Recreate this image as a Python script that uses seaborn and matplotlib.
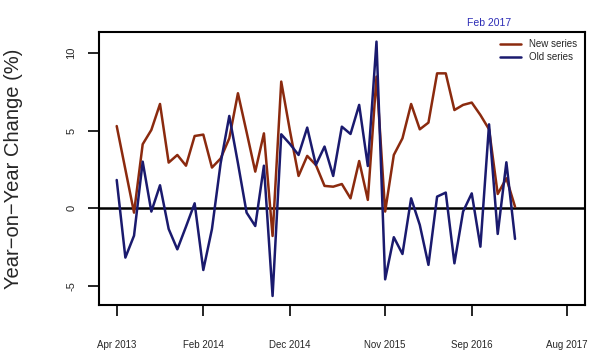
import pandas as pd
import matplotlib.pyplot as plt
import seaborn as sns

# monthly data, Apr 2013 (month 0) .. Feb 2017 (month 46)
months = list(range(47))
new_series = [5.29, 2.5, -0.28, 4.12, 5.04, 6.71, 2.94, 3.43, 2.74, 4.65,
              4.74, 2.62, 3.2, 4.5, 7.40, 4.9, 2.36, 4.82, -1.78, 8.15,
              5.0, 2.08, 3.37, 2.79, 1.44, 1.39, 1.56, 0.64, 3.04, 0.54,
              8.47, -0.21, 3.43, 4.50, 6.71, 5.08, 5.51, 8.68, 8.68, 6.32,
              6.65, 6.80, 6.0, 5.08, 0.92, 1.93, 0.1]
old_series = [1.82, -3.17, -1.76, 3.00, -0.21, 1.48, -1.33, -2.64, -1.18, 0.32,
              -3.97, -1.33, 2.89, 5.94, 2.9, -0.28, -1.14, 2.74, -5.64, 4.76,
              4.14, 3.43, 5.19, 2.79, 3.97, 2.08, 5.25, 4.78, 6.65, 2.72,
              10.72, -4.57, -1.86, -2.94, 0.64, -1.07, -3.64, 0.75, 1.01, -3.54,
              -0.21, 0.96, -2.47, 5.40, -1.65, 2.96, -1.97]

tick_months = [0, 10, 20, 31, 41, 52]
tick_labels = ['Apr 2013', 'Feb 2014', 'Dec 2014', 'Nov 2015', 'Sep 2016', 'Aug 2017']

df = pd.DataFrame({'month': months, 'New series': new_series, 'Old series': old_series})
long = df.melt(id_vars='month', var_name='series', value_name='change')

sns.set_style('white')
plt.rcParams['font.family'] = ['Liberation Sans', 'DejaVu Sans']

fig = plt.figure(figsize=(6, 3.56), dpi=100)
ax = fig.add_axes([0.1645, 0.1433, 0.8105, 0.7677])

sns.lineplot(data=long, x='month', y='change', hue='series',
             palette={'New series': '#8B2A0E', 'Old series': '#1A1A6E'},
             linewidth=1.8, ax=ax)
ax.axhline(0, color='black', linewidth=1.8, zorder=1)

ax.set_xlim(-2.08, 54.08)
ax.set_ylim(-6.22, 11.36)
ax.set_xticks(tick_months)
ax.set_xticklabels(tick_labels)
ax.set_yticks([-5, 0, 5, 10])
ax.set_yticklabels(['-5', '0', '5', '10'], rotation=90, va='center')
ax.tick_params(axis='x', direction='out', length=8, width=1.2, pad=17,
               labelsize=7, bottom=True, color='black')
ax.tick_params(axis='y', direction='out', length=8, width=1.2, pad=8,
               labelsize=8, left=True, color='black')
for s in ax.spines.values():
    s.set_color('black')
    s.set_linewidth(1.5)

ax.set_xlabel('')
ax.set_ylabel('Year\u2212on\u2212Year Change (%)', fontsize=14.5)
ax.yaxis.set_label_coords(-0.155, 0.5)

ax.legend(loc='upper right', frameon=False, fontsize=7, handlelength=2.2,
          labelspacing=0.3, borderaxespad=0.4, title=None)

fig.text(489 / 600, 1 - 23 / 356, 'Feb 2017', color='#2B2BB5', fontsize=7.5,
         ha='center', va='center')

plt.savefig('out.png', dpi=100)
